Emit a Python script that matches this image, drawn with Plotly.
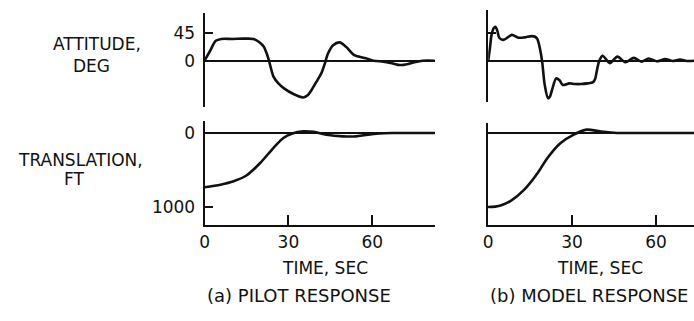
import plotly.graph_objects as go

# ---- data -------------------------------------------------------------
# (a) pilot response: attitude (deg) and translation (ft) vs time (s)
t_pilot_att = [0, 2, 4, 6, 10, 14, 17.5, 19.5, 21.2, 22.2, 23, 24.7, 26.5, 28.3,
               31.8, 35.3, 37, 38.3, 40, 41.8, 43, 44.2, 46, 48.3, 50.6, 53.6,
               57.7, 60.5, 64, 67, 70, 73, 75.5, 78, 82.4]
pilot_att = [0, 16, 32, 35, 35, 35.5, 35, 30, 22.5, 12, 1, -26, -37, -44,
             -53.5, -59, -55, -47, -34, -20, -5, 12, 25, 29.5, 22.5, 9,
             4, 0, -1.5, -4, -7, -5, -2, 0, 0]

t_pilot_tr = [0, 5.7, 10.4, 15.1, 19.9, 24.6, 28.2, 31.2, 35.3, 39, 43.6,
              49.5, 54.2, 57.7, 62.4, 68, 82.4]
pilot_tr = [733, 698, 652, 571, 405, 203, 67, 9, -23, -15, 23,
            45, 45, 25, 5, 0, 0]

# (b) model response
t_model_att = [0, 0.6, 1.2, 2.0, 2.6, 3.3, 4, 5.5, 7, 8.5, 10.8, 13, 15.5,
               16.8, 17.6, 18.5, 19.3, 20.2, 21.4, 22.1, 22.8, 24.3, 25.5,
               26.7, 29, 31, 33.2, 35.5, 37.5, 38.3, 38.8, 39.7, 40.9, 43.5,
               46.2, 49, 52.1, 54.8, 57.4, 60.3, 63.3, 66, 68.6, 71, 73.6]
model_att = [0, 20, 42, 53, 55, 48, 37, 34, 38, 42, 37.5, 38, 40,
             39, 35, 20, -1, -38, -60, -57, -47, -28, -31,
             -38.5, -36, -37, -37, -36, -34, -28, -17, 0, 8.5, -3.5,
             7, -2, 5, -1, 4, -0.5, 3, 0, 2.5, 0, 0.5]

t_model_tr = [0, 2.5, 4.7, 8.2, 12.9, 17.7, 21.2, 25.9, 30.6, 35.2, 40,
              45.9, 50, 73.6]
model_tr = [1000, 995, 977, 913, 765, 540, 337, 135, 22, -45, -22,
            0, 0, 0]

time_ticks = [0, 30, 60]
att_ticks = [0, 45]
tr_ticks = [0, 1000]

# ---- layout helpers ----------------------------------------------------
W, H = 694, 321
FONT = "DejaVu Sans"
INK = "#111111"


def px(x):
    return x / W


def py(y):
    return 1 - y / H


fig = go.Figure()

curve = dict(color=INK, width=2.6, shape="spline", smoothing=0.8)
fig.add_trace(go.Scatter(x=t_pilot_att, y=pilot_att, mode="lines", line=curve,
                         xaxis="x", yaxis="y", hoverinfo="skip"))
fig.add_trace(go.Scatter(x=t_model_att, y=model_att, mode="lines", line=curve,
                         xaxis="x2", yaxis="y2", hoverinfo="skip"))
fig.add_trace(go.Scatter(x=t_pilot_tr, y=pilot_tr, mode="lines", line=curve,
                         xaxis="x3", yaxis="y3", hoverinfo="skip"))
fig.add_trace(go.Scatter(x=t_model_tr, y=model_tr, mode="lines", line=curve,
                         xaxis="x4", yaxis="y4", hoverinfo="skip"))

tickfont = dict(family=FONT, size=17, color=INK)

left_dom = [px(201), px(433)]
right_dom = [px(486.7), 1.0]

hidden_x = dict(visible=False, zeroline=False, showgrid=False)
time_axis = dict(showline=True, linewidth=2, linecolor=INK, zeroline=False,
                 showgrid=False, ticks="inside", ticklen=10, tickwidth=2,
                 tickcolor=INK, tickvals=time_ticks,
                 ticktext=[str(v) for v in time_ticks], tickfont=tickfont,
                 ticklabelstandoff=0)
y_common = dict(showline=True, linewidth=2, linecolor=INK, showgrid=False,
                zeroline=True, zerolinecolor=INK, zerolinewidth=1.6,
                ticks="inside", ticklen=8, tickwidth=2, tickcolor=INK,
                tickfont=tickfont, ticklabelstandoff=4)

fig.update_layout(
    width=W, height=H,
    margin=dict(l=0, r=0, t=0, b=0),
    paper_bgcolor="white", plot_bgcolor="white",
    showlegend=False,
    xaxis=dict(domain=left_dom, range=[0, 82.4], anchor="y", **hidden_x),
    xaxis2=dict(domain=right_dom, range=[0, 73.6], anchor="y2", **hidden_x),
    xaxis3=dict(domain=left_dom, range=[0, 82.4], anchor="y3", **time_axis),
    xaxis4=dict(domain=right_dom, range=[0, 73.6], anchor="y4", **time_axis),
    yaxis=dict(domain=[py(106.7), py(13.3)], range=[-73.9, 76.2], anchor="x",
               tickvals=att_ticks, ticktext=[str(v) for v in att_ticks],
               **y_common),
    yaxis2=dict(domain=[py(102.3), py(10)], range=[-66.4, 82], anchor="x2",
                tickvals=[45], showticklabels=False, **y_common),
    yaxis3=dict(domain=[py(225.3), py(121.3)], range=[1247, -158], anchor="x3",
                tickvals=tr_ticks, ticktext=[str(v) for v in tr_ticks],
                **y_common),
    yaxis4=dict(domain=[py(225.3), py(123)], range=[1247, -135], anchor="x4",
                tickvals=[1000], showticklabels=False, **y_common),
)


def label(text, x, y, size=17):
    fig.add_annotation(text=text, x=px(x), y=py(y), xref="paper", yref="paper",
                       showarrow=False, xanchor="center", yanchor="middle",
                       font=dict(family=FONT, size=size, color=INK))


label("ATTITUDE,", 93, 44)
label("DEG", 87, 66)
label("TRANSLATION,", 76, 160)
label("FT", 70, 179)
label("TIME, SEC", 322, 268)
label("TIME, SEC", 599, 268)
label("(a) PILOT RESPONSE", 296, 295, size=18)
label("(b) MODEL RESPONSE", 588, 295, size=18)

fig.write_html("out.html")
